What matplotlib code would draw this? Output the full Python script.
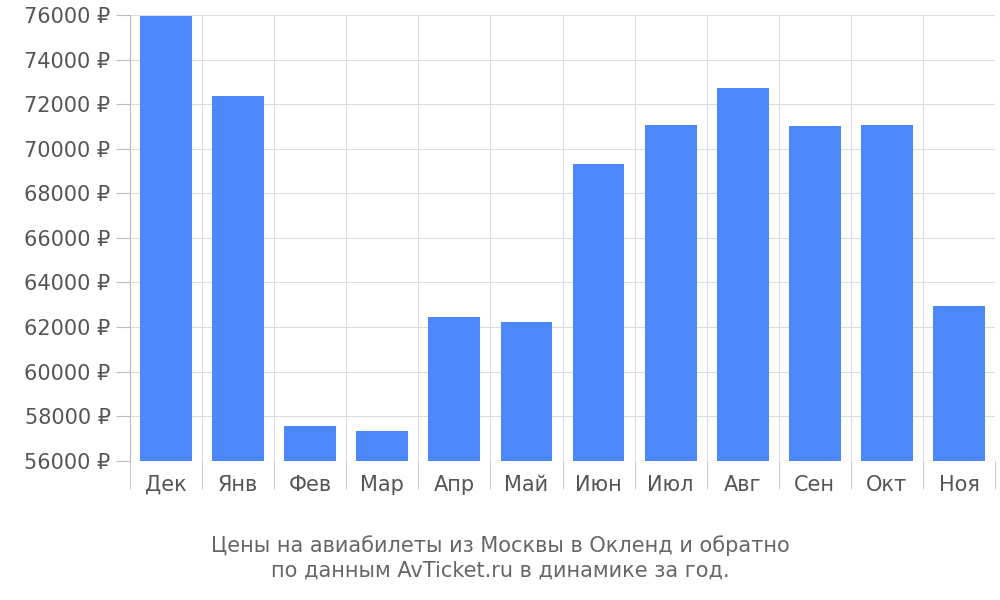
import matplotlib
matplotlib.use("Agg")
import matplotlib.pyplot as plt
import numpy as np

months = ["Дек", "Янв", "Фев", "Мар", "Апр", "Май", "Июн", "Июл", "Авг", "Сен", "Окт", "Ноя"]
prices = [75950, 72370, 57570, 57350, 62460, 62240, 69330, 71070, 72730, 71020, 71070, 62940]
yticks = list(range(56000, 76001, 2000))

fig = plt.figure(figsize=(10, 6), dpi=100)
ax = fig.add_axes([0.130, 0.232, 0.865, 0.743])
x = np.arange(len(months))
ax.bar(x, prices, width=0.72, color="#4d88fb", zorder=3)
ax.set_xlim(-0.5, len(months) - 0.5)
ax.set_ylim(56000, 76000)
ax.set_yticks(yticks)
ax.set_yticklabels([f"{v} ₽" for v in yticks], fontsize=15, color="#555555")
ax.set_xticks(x)
ax.set_xticklabels(months, fontsize=15, color="#555555")
ax.tick_params(axis="x", length=0, pad=10)
ax.tick_params(axis="y", length=10, color="#bbbbbb", pad=4)
ax.set_xticks(np.arange(-0.5, len(months)), minor=True)
ax.tick_params(axis="x", which="minor", length=20, color="#bbbbbb")
ax.grid(True, axis="y", color="#dddddd", zorder=0)
ax.grid(True, axis="x", which="minor", color="#dddddd", zorder=0)
for s in ["top", "right", "bottom"]:
    ax.spines[s].set_visible(False)
ax.spines["left"].set_color("#bbbbbb")
fig.text(0.5, 0.07, "Цены на авиабилеты из Москвы в Окленд и обратно\nпо данным AvTicket.ru в динамике за год.",
         ha="center", va="center", fontsize=15, color="#666666", linespacing=1.3)
fig.savefig("out.png")
